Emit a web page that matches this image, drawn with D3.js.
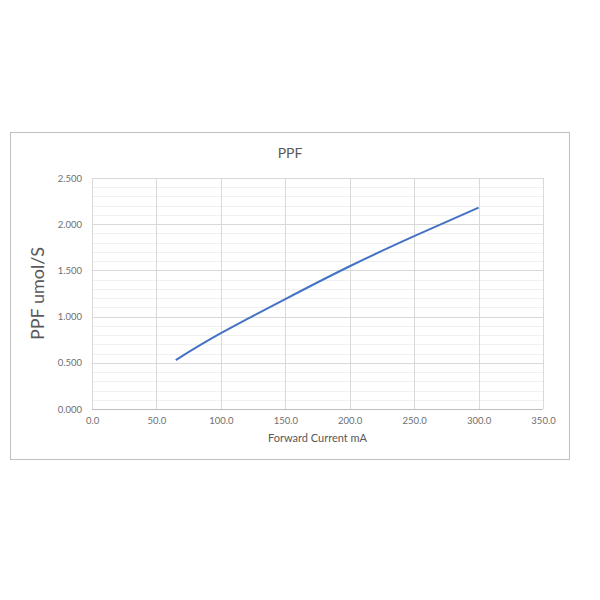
<!DOCTYPE html>
<html>
<head>
<meta charset="utf-8">
<script src="https://cdn.jsdelivr.net/npm/d3@7"></script>
<style>
  body { margin: 0; background: #fff; }
  svg { font-family: Lato, "Open Sans", sans-serif; }
</style>
</head>
<body>
<div id="chart"></div>
<script>
// forward current (mA) vs PPF (umol/S)
const current = [65, 100, 150, 200, 250, 300];
const ppf = [0.53, 0.82, 1.19, 1.545, 1.87, 2.18];
const xTicks = [0, 50, 100, 150, 200, 250, 300, 350];
const yTicks = [0, 0.5, 1.0, 1.5, 2.0, 2.5];
const yMinor = d3.range(0, 2.5001, 0.1);

const width = 600, height = 600;
const plot = { left: 92, right: 543, top: 178, bottom: 409 };

const svg = d3.select("#chart").append("svg")
  .attr("width", width)
  .attr("height", height);

// chart frame
svg.append("rect")
  .attr("x", 10.5).attr("y", 132.5)
  .attr("width", 559).attr("height", 327)
  .attr("fill", "#fff")
  .attr("stroke", "#bfbfbf");

const x = d3.scaleLinear().domain([0, 350]).range([plot.left, plot.right]);
const y = d3.scaleLinear().domain([0, 2.5]).range([plot.bottom, plot.top]);

// minor horizontal grid
svg.append("g").selectAll("line")
  .data(yMinor)
  .enter().append("line")
  .attr("x1", plot.left).attr("x2", plot.right)
  .attr("y1", d => Math.round(y(d)) + 0.5).attr("y2", d => Math.round(y(d)) + 0.5)
  .attr("stroke", "#f0f0f0");

// major grid
svg.append("g").selectAll("line")
  .data(yTicks)
  .enter().append("line")
  .attr("x1", plot.left).attr("x2", plot.right)
  .attr("y1", d => Math.round(y(d)) + 0.5).attr("y2", d => Math.round(y(d)) + 0.5)
  .attr("stroke", "#d9d9d9");

svg.append("g").selectAll("line")
  .data(xTicks)
  .enter().append("line")
  .attr("x1", d => Math.round(x(d)) + 0.5).attr("x2", d => Math.round(x(d)) + 0.5)
  .attr("y1", plot.top).attr("y2", plot.bottom)
  .attr("stroke", "#d9d9d9");

// bottom axis line
svg.append("line")
  .attr("x1", plot.left).attr("x2", plot.right)
  .attr("y1", plot.bottom + 0.5).attr("y2", plot.bottom + 0.5)
  .attr("stroke", "#bfbfbf");

// tick labels via d3 axes (no domain / tick lines)
const xAxis = svg.append("g")
  .attr("transform", "translate(0," + plot.bottom + ")")
  .call(d3.axisBottom(x).tickValues(xTicks).tickFormat(d3.format(".1f")).tickSize(0).tickPadding(8));
const yAxis = svg.append("g")
  .attr("transform", "translate(" + plot.left + ",0)")
  .call(d3.axisLeft(y).tickValues(yTicks).tickFormat(d3.format(".3f")).tickSize(0).tickPadding(10));
[xAxis, yAxis].forEach(a => {
  a.select(".domain").remove();
  a.selectAll("text")
    .style("font-family", "Lato, 'Open Sans', sans-serif")
    .style("font-size", "9.5px")
    .attr("fill", "#6e6e6e");
});

// series line
const line = d3.line()
  .x((d, i) => x(current[i]))
  .y(d => y(d))
  .curve(d3.curveNatural);
svg.append("path")
  .datum(ppf)
  .attr("d", line)
  .attr("fill", "none")
  .attr("stroke", "#4472c4")
  .attr("stroke-width", 2);

// title
svg.append("text")
  .attr("x", 290).attr("y", 158)
  .attr("text-anchor", "middle")
  .attr("fill", "#595959")
  .style("font-size", "14px")
  .text("PPF");

// x label
svg.append("text")
  .attr("x", (plot.left + plot.right) / 2).attr("y", 442)
  .attr("text-anchor", "middle")
  .attr("fill", "#595959")
  .style("font-size", "11px")
  .text("Forward Current mA");

// y label
svg.append("text")
  .attr("transform", "translate(44," + ((plot.top + plot.bottom) / 2) + ") rotate(-90)")
  .attr("text-anchor", "middle")
  .attr("fill", "#595959")
  .style("font-size", "18px")
  .text("PPF umol/S");
</script>
</body>
</html>
